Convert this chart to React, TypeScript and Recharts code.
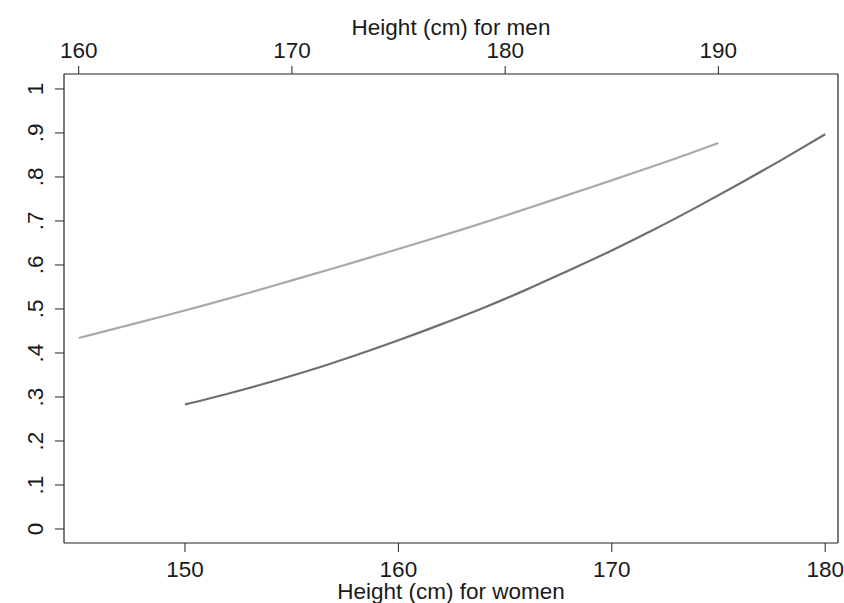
import React from "react";
import { LineChart, Line, XAxis, YAxis, ReferenceLine } from "recharts";

const menHeights = [160, 162, 164, 166, 168, 170, 172, 174, 176, 178, 180, 182, 184, 186, 188, 190];
const menProb = [0.434, 0.459, 0.484, 0.51, 0.537, 0.565, 0.593, 0.622, 0.651, 0.681, 0.712, 0.744, 0.776, 0.809, 0.842, 0.877];
const womenHeights = [150, 152, 154, 156, 158, 160, 162, 164, 166, 168, 170, 172, 174, 176, 178, 180];
const womenProb = [0.283, 0.3075, 0.334, 0.363, 0.395, 0.429, 0.465, 0.503, 0.544, 0.588, 0.633, 0.681, 0.732, 0.785, 0.84, 0.897];

const bottomTicks = [150, 160, 170, 180];
const topTicks = [160, 170, 180, 190];
const yTicks = [0, 0.1, 0.2, 0.3, 0.4, 0.5, 0.6, 0.7, 0.8, 0.9, 1];
const bottomDomain = [144.33, 180.6];
const topDomain = [159.31, 195.61];
const yDomain = [-0.0318, 1.034];

const menData = menHeights.map((h, i) => ({ h, p: menProb[i] }));
const womenData = womenHeights.map((h, i) => ({ h, p: womenProb[i] }));

const FONT = "'Liberation Sans', Arial, Helvetica, sans-serif";
const FS = 22.5;
const AX = "#222";
const TXT = "#1a1a1a";

const fmtY = (v: number) => {
  if (v === 0) return "0";
  if (v === 1) return "1";
  return "." + Math.round(v * 10);
};

const YTick = (props: any) => {
  const { x, y, payload } = props;
  return (
    <text
      x={x}
      y={y}
      transform={`rotate(-90 ${x} ${y})`}
      textAnchor="middle"
      fontFamily={FONT}
      fontSize={FS}
      fill={TXT}
    >
      {fmtY(payload.value)}
    </text>
  );
};

export default function App() {
  return (
    <div style={{ position: "absolute", left: 8, top: 8, width: 836, height: 595 }}>
      <LineChart width={836} height={595} margin={{ top: 0, right: 6, bottom: 0, left: 0 }}>
        <XAxis
          xAxisId="bottom"
          dataKey="h"
          type="number"
          orientation="bottom"
          domain={bottomDomain}
          allowDataOverflow
          ticks={bottomTicks}
          height={60}
          tickSize={9}
          tickMargin={9}
          stroke={AX}
          strokeWidth={1.2}
          tick={{ fontFamily: FONT, fontSize: FS, fill: TXT }}
          tickLine={{ stroke: AX, strokeWidth: 1 }}
          label={{
            value: "Height (cm) for women",
            position: "insideBottom",
            offset: 4,
            fontFamily: FONT,
            fontSize: FS,
            fill: TXT,
          }}
        />
        <XAxis
          xAxisId="top"
          dataKey="h"
          type="number"
          orientation="top"
          domain={topDomain}
          allowDataOverflow
          ticks={topTicks}
          height={66}
          tickSize={8}
          tickMargin={8}
          stroke={AX}
          strokeWidth={1.2}
          tick={{ fontFamily: FONT, fontSize: FS, fill: TXT }}
          tickLine={{ stroke: AX, strokeWidth: 1 }}
          label={{
            value: "Height (cm) for men",
            position: "insideTop",
            offset: 11,
            fontFamily: FONT,
            fontSize: FS,
            fill: TXT,
          }}
        />
        <YAxis
          yAxisId="left"
          type="number"
          domain={yDomain}
          allowDataOverflow
          ticks={yTicks}
          width={56}
          tickSize={9}
          tickMargin={12}
          stroke={AX}
          strokeWidth={1.2}
          tick={<YTick />}
          tickLine={{ stroke: AX, strokeWidth: 1 }}
        />
        <ReferenceLine
          xAxisId="bottom"
          yAxisId="left"
          x={bottomDomain[1]}
          stroke={AX}
          strokeWidth={1.2}
          ifOverflow="visible"
        />
        <Line
          data={menData}
          xAxisId="top"
          yAxisId="left"
          dataKey="p"
          type="monotone"
          stroke="#a9a9a9"
          strokeWidth={2.2}
          dot={false}
          activeDot={false}
          isAnimationActive={false}
        />
        <Line
          data={womenData}
          xAxisId="bottom"
          yAxisId="left"
          dataKey="p"
          type="monotone"
          stroke="#6f6f6f"
          strokeWidth={2.2}
          dot={false}
          activeDot={false}
          isAnimationActive={false}
        />
      </LineChart>
    </div>
  );
}
